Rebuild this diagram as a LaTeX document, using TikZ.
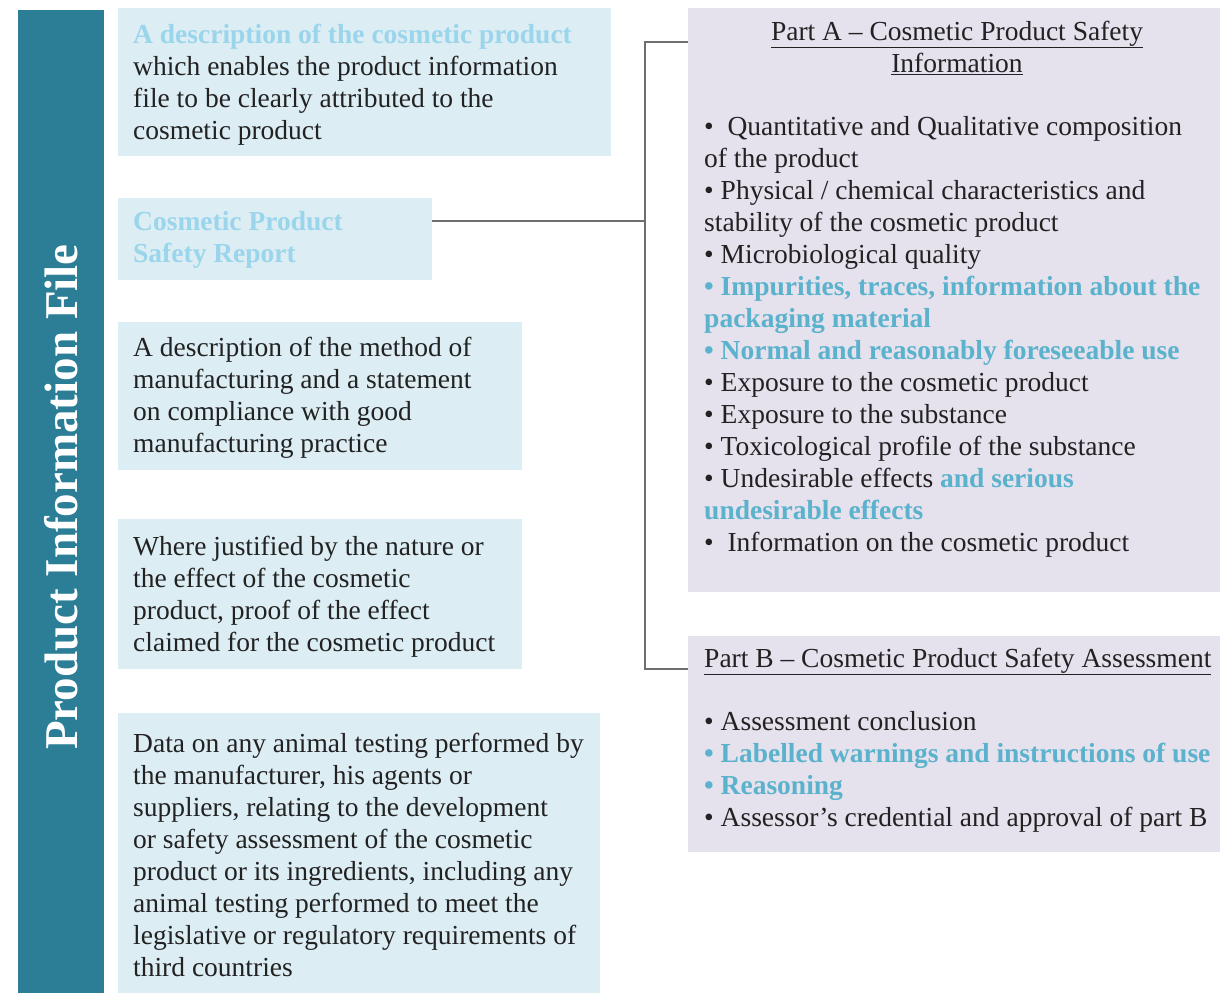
\documentclass[tikz,border=0pt]{standalone}
\usepackage{fontspec}
\setmainfont{Liberation Serif}
\definecolor{barteal}{HTML}{2B7E96}
\definecolor{lboxfill}{HTML}{DCEDF4}
\definecolor{pboxfill}{HTML}{E5E1ED}
\definecolor{lblue}{HTML}{9AD5EC}
\definecolor{tblue}{HTML}{5AB2CC}
\definecolor{txtblack}{HTML}{222222}
\definecolor{linegray}{HTML}{6E6E6E}
\newcommand{\lb}[1]{\textcolor{lblue}{\textbf{#1}}}
\newcommand{\tb}[1]{\textcolor{tblue}{\textbf{#1}}}
\begin{document}
\begin{tikzpicture}[x=1pt,y=-1pt,
  lbox/.style={fill=lboxfill,draw=none,anchor=north west,inner sep=0},
  pbox/.style={fill=pboxfill,draw=none,anchor=north west,inner sep=0},
  txt/.style={anchor=north west,inner sep=0,align=left,text=txtblack,font=\fontsize{27.5}{32}\selectfont},
  conn/.style={draw=linegray,line width=2pt}]
\useasboundingbox (0,0) rectangle (1220,993);
% left bar
\node[fill=barteal,anchor=north west,inner sep=0,minimum width=86pt,minimum height=983pt] (bar) at (18,10) {};
\node[rotate=90,text=white,font=\fontsize{47}{54}\selectfont\bfseries] (title) at (61,497) {Product Information File};
% left boxes
\node[lbox,minimum width=493pt,minimum height=148pt] (b1) at (118,8) {};
\node[lbox,minimum width=314pt,minimum height=82pt] (b2) at (118,198) {};
\node[lbox,minimum width=404pt,minimum height=148pt] (b3) at (118,322) {};
\node[lbox,minimum width=404pt,minimum height=150pt] (b4) at (118,519) {};
\node[lbox,minimum width=482pt,minimum height=280pt] (b5) at (118,713) {};
\node[txt] (t1) at (133,20.6) {\strut\lb{A description of the cosmetic product}\\which enables the product information\\file to be clearly attributed to the\\cosmetic product};
\node[txt] (t2) at (133,207.6) {\strut\lb{Cosmetic Product}\\\lb{Safety Report}};
\node[txt] (t3) at (133,333.6) {\strut A description of the method of\\manufacturing and a statement\\on compliance with good\\manufacturing practice};
\node[txt] (t4) at (133,532.6) {\strut Where justified by the nature or\\the effect of the cosmetic\\product, proof of the effect\\claimed for the cosmetic product};
\node[txt] (t5) at (133,729.6) {\strut Data on any animal testing performed by\\the manufacturer, his agents or\\suppliers, relating to the development\\or safety assessment of the cosmetic\\product or its ingredients, including any\\animal testing performed to meet the\\legislative or regulatory requirements of\\third countries};
% right boxes
\node[pbox,minimum width=532pt,minimum height=584pt] (pa) at (688,8) {};
\node[pbox,minimum width=532pt,minimum height=216pt] (pb) at (688,636) {};
\node[txt,anchor=north,align=center] (pat) at (957,17.6) {\strut\underline{Part A -- Cosmetic Product Safety}\\\underline{Information}};
\node[txt] (pai) at (704,112.6) {\strut•~~Quantitative and Qualitative composition\\of the product\\• Physical / chemical characteristics and\\stability of the cosmetic product\\• Microbiological quality\\\tb{• Impurities, traces, information about the}\\\tb{packaging material}\\\tb{• Normal and reasonably foreseeable use}\\• Exposure to the cosmetic product\\• Exposure to the substance\\• Toxicological profile of the substance\\• Undesirable effects \tb{and serious}\\\tb{undesirable effects}\\•~~Information on the cosmetic product};
\node[txt] (pbt) at (704,644.6) {\strut\underline{Part B -- Cosmetic Product Safety Assessment}};
\node[txt] (pbi) at (704,707.6) {\strut• Assessment conclusion\\\tb{• Labelled warnings and instructions of use}\\\tb{• Reasoning}\\• Assessor’s credential and approval of part B};
% connectors
\coordinate (j) at (645,221);
\draw[conn] (b2.east |- j) -- (j);
\draw[conn] (pa.west |- 0,42) -| (645,669) -- (pb.west |- 0,669);
\end{tikzpicture}
\end{document}
